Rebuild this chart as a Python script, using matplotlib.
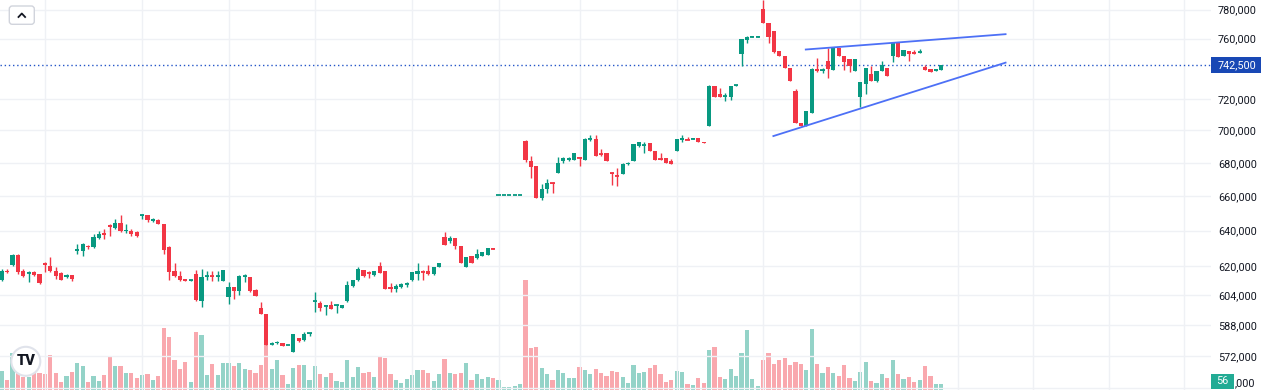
import numpy as np
import matplotlib
matplotlib.use("Agg")
import matplotlib.pyplot as plt
from matplotlib.patches import FancyBboxPatch, Circle, Rectangle
from matplotlib.lines import Line2D
from matplotlib.ticker import FixedLocator, FuncFormatter, NullLocator
from matplotlib.colors import to_rgba

plt.rcParams['font.family'] = ['Roboto', 'DejaVu Sans']

# ---------------- data (prices in thousands) ----------------
opens_k = [612.5, 617.5, 620.5, 626.0, 617.0, 616.0, 616.5, 615.5, 621.5, 620.0,
           617.0, 616.0, 614.0, 615.0, 628.5, 628.5, 631.5, 630.5, 635.5, 638.5,
           643.0, 641.5, 644.5, 639.5, 640.0, 639.0, 648.5, 649.0, 645.5, 646.0,
           643.5, 630.5, 617.0, 614.5, 613.0, 612.0, 615.5, 601.0, 614.0, 614.5,
           614.0, 612.0, 603.0, 608.5, 606.5, 614.0, 614.0, 607.0, 597.0, 594.0,
           578.0, 578.5, 578.5, 577.5, 574.0, 581.5, 580.5, 583.5, 600.5, 600.0,
           598.0, 598.5, 598.3, 597.0, 601.0, 609.0, 612.5, 618.0, 616.5, 615.0,
           620.0, 617.0, 608.5, 607.5, 608.5, 610.0, 612.5, 615.5, 617.0, 617.5,
           615.5, 619.5, 636.5, 634.0, 636.0, 631.5, 619.5, 625.5, 624.5, 625.5,
           626.0, 630.0, 660.8, 660.8, 660.8, 660.8, 660.8, 693.5, 681.0, 678.0,
           659.0, 664.0, 668.0, 674.0, 681.0, 681.5, 682.0, 683.5, 682.0, 694.5,
           694.5, 685.5, 686.0, 674.0, 672.5, 673.0, 679.0, 681.0, 690.5, 690.5,
           692.0, 687.0, 682.5, 683.0, 681.0, 687.5, 694.0, 694.5, 694.5, 695.0,
           693.0, 703.0, 728.5, 723.0, 721.5, 721.5, 728.5, 749.5, 759.0, 761.0,
           761.0, 780.5, 771.0, 765.0, 751.5, 748.5, 740.5, 725.0, 704.5, 702.5,
           711.0, 739.5, 738.5, 745.0, 739.0, 753.5, 748.0, 746.0, 738.5, 721.5,
           730.0, 736.5, 731.5, 738.0, 740.5, 748.5, 757.5, 748.0, 751.5, 751.0,
           750.5, 741.0, 739.5, 738.5, 739.0]
highs_k = [618.5, 618.5, 626.5, 626.5, 618.5, 617.5, 617.0, 615.5, 622.0, 625.0,
           619.5, 616.5, 615.5, 615.0, 632.5, 633.0, 632.0, 638.0, 639.5, 641.0,
           644.0, 646.5, 649.0, 643.5, 641.0, 639.5, 649.5, 649.0, 647.0, 646.5,
           644.0, 631.0, 621.5, 617.5, 613.0, 612.5, 618.0, 618.5, 617.5, 617.5,
           617.5, 618.0, 611.0, 608.5, 615.0, 615.5, 614.0, 607.5, 600.5, 594.0,
           579.5, 580.0, 578.5, 577.5, 583.5, 581.5, 584.5, 584.0, 605.5, 601.0,
           598.5, 601.0, 599.5, 598.5, 611.5, 612.5, 619.5, 618.0, 617.0, 617.5,
           622.5, 617.0, 610.5, 610.0, 610.5, 611.0, 616.5, 621.5, 618.0, 620.5,
           619.5, 621.5, 639.0, 637.0, 636.0, 631.5, 625.0, 625.5, 629.5, 628.0,
           630.0, 630.0, 660.8, 660.8, 660.8, 660.8, 660.8, 694.0, 684.0, 678.0,
           667.5, 670.5, 668.5, 683.5, 683.5, 683.5, 686.0, 683.5, 695.5, 697.0,
           697.0, 688.5, 686.0, 674.5, 677.0, 680.0, 680.5, 691.5, 693.0, 692.5,
           692.0, 687.0, 686.0, 683.0, 682.5, 694.5, 697.0, 696.0, 695.0, 695.0,
           693.0, 729.0, 728.5, 727.0, 724.0, 728.5, 729.0, 760.0, 761.5, 761.5,
           761.5, 787.0, 771.0, 765.0, 751.5, 748.5, 740.5, 726.5, 704.5, 712.0,
           740.0, 747.0, 740.5, 753.5, 754.0, 753.5, 748.0, 746.0, 746.5, 731.0,
           740.5, 741.5, 738.0, 745.0, 740.5, 757.0, 757.5, 752.0, 751.5, 752.5,
           753.0, 742.5, 739.5, 739.5, 742.5]
lows_k = [612.0, 616.0, 620.0, 615.5, 614.0, 611.0, 614.5, 610.0, 616.5, 616.5,
          613.0, 612.5, 613.5, 612.0, 627.0, 625.5, 629.5, 630.0, 635.0, 635.0,
          637.0, 641.0, 639.0, 638.5, 637.0, 636.5, 646.5, 645.0, 645.0, 643.5,
          627.0, 612.5, 614.0, 612.0, 612.0, 612.0, 601.0, 597.5, 612.5, 612.0,
          611.5, 611.5, 599.5, 602.0, 604.0, 611.0, 606.0, 603.5, 594.0, 577.5,
          577.5, 578.0, 577.0, 577.5, 574.0, 579.0, 580.0, 582.5, 595.0, 595.5,
          593.5, 596.5, 594.5, 597.0, 600.5, 608.5, 612.0, 614.0, 613.5, 614.5,
          616.0, 607.5, 606.0, 606.0, 608.0, 608.5, 612.0, 612.5, 612.5, 615.0,
          615.0, 619.5, 632.0, 633.0, 629.5, 621.5, 619.5, 621.5, 624.0, 625.5,
          626.0, 629.5, 660.8, 660.8, 660.8, 660.8, 660.8, 680.5, 671.0, 659.0,
          657.5, 662.0, 662.0, 674.0, 680.0, 681.0, 682.0, 678.0, 682.0, 693.5,
          684.0, 684.0, 681.0, 666.5, 666.0, 673.0, 678.5, 681.0, 690.0, 686.0,
          687.0, 682.0, 681.5, 680.0, 679.5, 687.5, 693.0, 694.0, 694.5, 693.0,
          692.0, 703.0, 721.5, 721.5, 719.0, 719.5, 728.5, 741.5, 757.0, 761.0,
          761.0, 771.0, 757.0, 750.0, 748.0, 740.0, 732.0, 704.5, 702.5, 702.5,
          711.0, 737.5, 737.0, 733.5, 739.0, 748.5, 739.0, 737.5, 738.5, 715.0,
          723.0, 731.5, 731.0, 738.0, 735.0, 744.0, 747.5, 748.0, 745.0, 749.5,
          750.5, 739.0, 737.5, 738.5, 739.0]
closes_k = [617.0, 616.5, 626.0, 616.5, 614.5, 616.5, 615.0, 610.5, 620.5, 617.0,
            614.5, 612.5, 615.0, 613.0, 629.5, 632.5, 630.5, 636.5, 638.0, 637.5,
            642.0, 644.5, 639.5, 640.5, 638.0, 637.0, 649.0, 646.0, 646.5, 644.0,
            629.0, 616.5, 614.5, 612.5, 612.0, 612.5, 601.5, 614.0, 614.5, 614.0,
            614.5, 618.0, 608.5, 606.5, 614.5, 614.5, 606.5, 603.5, 594.0, 577.5,
            578.5, 579.5, 577.0, 577.5, 583.5, 580.0, 583.5, 584.0, 601.0, 597.0,
            598.5, 596.5, 598.7, 598.5, 609.5, 612.5, 618.5, 614.5, 616.0, 617.5,
            616.0, 607.5, 607.5, 609.0, 610.0, 610.5, 616.5, 617.0, 616.5, 615.5,
            619.5, 621.5, 632.0, 636.0, 631.0, 621.5, 625.0, 621.5, 626.5, 628.0,
            630.0, 629.5, 660.8, 660.8, 660.8, 660.8, 660.8, 681.5, 677.5, 659.0,
            664.0, 668.0, 667.5, 680.0, 683.0, 683.0, 686.0, 683.0, 694.5, 695.0,
            684.0, 685.0, 681.0, 673.5, 672.0, 679.5, 680.0, 691.5, 693.0, 691.0,
            687.5, 682.0, 682.0, 680.0, 679.5, 694.5, 695.5, 694.0, 695.0, 693.0,
            692.0, 728.5, 721.5, 721.5, 722.0, 728.5, 729.0, 759.5, 761.0, 761.5,
            761.5, 771.0, 761.0, 751.0, 748.0, 740.5, 732.0, 704.5, 702.5, 712.0,
            739.5, 738.0, 739.0, 739.5, 753.5, 748.5, 744.5, 741.5, 746.5, 731.0,
            740.5, 731.5, 738.0, 742.0, 735.0, 757.0, 747.5, 752.0, 749.5, 749.5,
            751.0, 739.0, 737.5, 739.5, 742.5]
volumes = [190, 100, 367, 170, 130, 130, 167, 170, 160, 347,
           167, 83, 140, 183, 273, 240, 83, 140, 93, 150,
           333, 240, 240, 170, 170, 123, 150, 160, 100, 140,
           617, 527, 300, 213, 283, 83, 580, 550, 150, 263,
           150, 273, 273, 240, 267, 210, 200, 170, 247, 470,
           210, 300, 147, 60, 220, 247, 247, 100, 240, 163,
           130, 173, 90, 83, 300, 130, 230, 173, 183, 130,
           340, 320, 163, 100, 67, 107, 147, 200, 200, 173,
           90, 163, 310, 173, 163, 173, 270, 100, 163, 110,
           130, 117, 100, 33, 33, 40, 57, 1100, 417, 433,
           217, 157, 100, 200, 173, 120, 120, 227, 200, 163,
           210, 173, 140, 190, 180, 127, 73, 253, 167, 180,
           220, 247, 163, 83, 100, 190, 180, 57, 47, 120,
           73, 400, 433, 127, 110, 210, 137, 370, 597, 110,
           40, 300, 370, 257, 300, 317, 247, 280, 257, 200,
           607, 257, 173, 227, 173, 137, 247, 120, 93, 183,
           280, 93, 73, 157, 120, 300, 163, 110, 127, 83,
           100, 237, 137, 57, 56]

price_ticks_k = [572, 588, 604, 620, 640, 660, 680, 700, 720, 760, 780]
month_start_idx = [8, 26, 42, 58, 76, 92, 107, 125, 141, 159, 177, 191, 205, 219]
last_price = 742500
last_volume = 56

# drawn trend lines (bar index, price in thousands)
upper_line_x = [148.9, 185.9]
upper_line_k = [752.6, 763.0]
lower_line_x = [142.9, 185.9]
lower_line_k = [696.5, 743.8]

# ---------------- figure ----------------
W, H = 1264, 390
UP, DOWN = '#089981', '#f23645'

o = np.array(opens_k) * 1000
h = np.array(highs_k) * 1000
l = np.array(lows_k) * 1000
c = np.array(closes_k) * 1000
idx = np.arange(len(o))
up = c >= o
cols = np.where(up, UP, DOWN)

fig = plt.figure(figsize=(W / 100, H / 100), dpi=100)
fig.patch.set_facecolor('white')
ax = fig.add_axes([0, 0, 1211 / W, 1])
ax2 = ax.twinx()
ax.set_zorder(2)
ax.patch.set_visible(False)
ax2.set_zorder(1)

# volume
vcols = [to_rgba(UP if u else DOWN, 0.43) for u in up]
ax2.bar(idx, volumes, width=0.8, color=vcols, linewidth=0)
ax2.set_ylim(0, 3900)
ax2.set_axis_off()

# grid
ax.set_yscale('log')
ax.set_xlim(-0.315, 223.94)
ax.set_ylim(554.9e3, 786.7e3)
ax.set_xticks(month_start_idx)
ax.yaxis.set_major_locator(FixedLocator([t * 1000 for t in price_ticks_k] + [556000]))
ax.yaxis.set_minor_locator(NullLocator())
ax.yaxis.set_major_formatter(FuncFormatter(lambda v, p: '' if v < 560000 else f"{int(round(v)):,}"))
ax.yaxis.tick_right()
ax.tick_params(axis='y', length=0, pad=5, labelsize=7.8, labelcolor='#131722')
ax.tick_params(axis='x', length=0, labelbottom=False)
ax.grid(True, color='#eff1f5', lw=1, zorder=0)
ax.set_axisbelow(True)
for s in ax.spines.values():
    s.set_visible(False)

# candles
ax.vlines(idx, l, h, colors=cols, lw=1, zorder=3)
body_lo = np.minimum(o, c)
body_h = np.abs(c - o)
ax.bar(idx, body_h, bottom=body_lo, width=0.8, color=cols, linewidth=0, zorder=4)
flat = body_h < 700
ax.hlines((o[flat] + c[flat]) / 2, idx[flat] - 0.4, idx[flat] + 0.4,
          colors=cols[flat], lw=1.3, zorder=4)

# trend lines
ax.plot(upper_line_x, np.array(upper_line_k) * 1000, color='#4d70f6', lw=1.3, zorder=5)
ax.plot(lower_line_x, np.array(lower_line_k) * 1000, color='#4d70f6', lw=1.3, zorder=5)

# last price line
ax.axhline(last_price, color='#2456c8', lw=1, ls=(0, (1, 2)), zorder=2)

# last price label
fig.patches.append(Rectangle((1211 / W, 1 - 73 / H), 50 / W, 15.7 / H,
                             transform=fig.transFigure, facecolor='#1848b5',
                             edgecolor='none', zorder=5))
fig.text(1218 / W, 1 - 65.2 / H, f"{last_price:,}", color='white', fontsize=7.8,
         ha='left', va='center', zorder=6)

# bottom partial label (visible part of 556,000) and volume label
fig.text(1235 / W, 1 - 383 / H, ",000", color='#131722', fontsize=7.8,
         ha='left', va='center', zorder=3)
fig.patches.append(Rectangle((1211 / W, 1 - 389 / H), 23 / W, 15 / H,
                             transform=fig.transFigure, facecolor='#22ab94',
                             edgecolor='none', zorder=5))
fig.text(1222.5 / W, 1 - 381.5 / H, str(last_volume), color='white', fontsize=7.8,
         ha='center', va='center', zorder=6)

# top-left collapse button
btn = FancyBboxPatch((0.093, (H - 24.3) / 100), 0.25, 0.183,
                     boxstyle='round,pad=0,rounding_size=0.03',
                     transform=fig.dpi_scale_trans, facecolor='white',
                     edgecolor='#d1d4dc', lw=1, zorder=5)
fig.patches.append(btn)
fig.lines.append(Line2D([0.185, 0.218, 0.251],
                        [(H - 17) / 100, (H - 13.5) / 100, (H - 17) / 100],
                        transform=fig.dpi_scale_trans, color='#131722', lw=1.3, zorder=6))

# logo
fig.patches.append(Circle((0.258, (H - 361.3) / 100), 0.145, transform=fig.dpi_scale_trans,
                          facecolor='white', edgecolor='#e0e3eb', lw=1.5, zorder=5))
fig.text(0.258, (H - 361.3) / 100, 'TV', transform=fig.dpi_scale_trans, ha='center',
         va='center', fontsize=10.5, fontweight='heavy', color='#131722', zorder=6)

fig.savefig('out.png', dpi=100, facecolor='white')
